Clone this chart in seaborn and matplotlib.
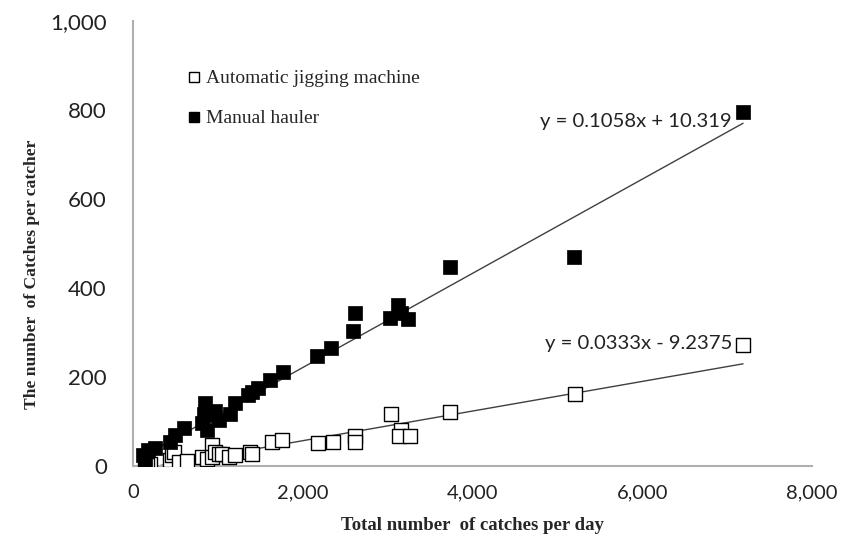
import matplotlib
matplotlib.use("Agg")
import matplotlib.pyplot as plt
from matplotlib.lines import Line2D
import numpy as np
import pandas as pd
import seaborn as sns

# ---- data ----
manual_x = [140, 121, 180, 259, 436, 495, 593, 809, 829, 848, 868, 926, 960, 1005,
            1142, 1201, 1358, 1400, 1476, 1614, 1770, 2160, 2335, 2590, 2615, 3027,
            3121, 3150, 3239, 3734, 5194, 7185]
manual_y = [13, 25, 36, 40, 55, 70, 85, 96, 118, 141, 81, 115, 125, 103,
            118, 141, 160, 167, 175, 193, 212, 247, 265, 303, 344, 333,
            362, 345, 330, 447, 470, 795]
auto_x = [141, 200, 161, 436, 456, 475, 534, 632, 809, 868, 926, 926, 966, 1005,
          1044, 1123, 1201, 1378, 1398, 1633, 1751, 2182, 2351, 2615, 2615, 3034,
          3157, 3133, 3263, 3734, 5206, 7185]
auto_y = [4, 6, 2, 13, 25, 32, 10, 12, 21, 17, 47, 21, 32, 28,
          28, 21, 25, 32, 28, 55, 58, 51, 55, 67, 55, 117,
          82, 67, 67, 121, 162, 272]
series_names = ["Automatic jigging machine", "Manual hauler"]
fit_slopes = [0.0333, 0.1058]
fit_intercepts = [-9.2375, 10.319]
fit_labels = ["y = 0.0333x - 9.2375", "y = 0.1058x + 10.319"]
x_ticks = [0, 2000, 4000, 6000, 8000]
y_ticks = [0, 200, 400, 600, 800, 1000]

sns.set_style("white")
fig = plt.figure(figsize=(8.65, 5.55), dpi=100)
ax = fig.add_axes([0.154, 0.160, 0.785, 0.802])

df_auto = pd.DataFrame({"x": auto_x, "y": auto_y})
df_man = pd.DataFrame({"x": manual_x, "y": manual_y})

# regression lines
for xs, m, b in [(auto_x, fit_slopes[0], fit_intercepts[0]),
                 (manual_x, fit_slopes[1], fit_intercepts[1])]:
    xl = np.array([min(xs), max(xs)])
    ax.plot(xl, m * xl + b, color="#404040", lw=1.0, zorder=2)

sns.scatterplot(data=df_auto, x="x", y="y", ax=ax, marker="s", s=95,
                facecolor="white", edgecolor="black", linewidth=1.0, zorder=3)
sns.scatterplot(data=df_man, x="x", y="y", ax=ax, marker="s", s=90,
                color="black", edgecolor="black", linewidth=0.5, zorder=4)

ax.set_xlim(0, 8000)
ax.set_ylim(0, 1000)
ax.set_xticks(x_ticks)
ax.set_yticks(y_ticks)
ax.set_xticklabels([f"{v:,}" for v in x_ticks])
ax.set_yticklabels([f"{v:,}" for v in y_ticks])

for s in ["top", "right"]:
    ax.spines[s].set_visible(False)
for s in ["left", "bottom"]:
    ax.spines[s].set_color("#b0b0b0")
    ax.spines[s].set_linewidth(1.5)
ax.tick_params(axis="both", which="major", direction="out", length=4,
               width=1, color="#b0b0b0")
ax.tick_params(axis="y", labelsize=16, pad=15)
ax.tick_params(axis="x", labelsize=14.5, pad=9)
for lab in ax.get_xticklabels() + ax.get_yticklabels():
    lab.set_family("Lato")
    lab.set_color("#222222")

ax.set_xlabel("Total number  of catches per day", family="Liberation Serif",
              fontweight="bold", fontsize=13.5)
ax.xaxis.set_label_coords(0.5, -0.115)
ax.set_ylabel("The number  of Catches per catcher", family="Liberation Serif",
              fontweight="bold", fontsize=12.6)
ax.yaxis.set_label_coords(-0.137, 0.431)

# equations
ax.text(7045, 774, fit_labels[1], ha="right", va="center", fontsize=14.6, family="Lato", color="#222222")
ax.text(7065, 276, fit_labels[0], ha="right", va="center", fontsize=14.6, family="Lato", color="#222222")

handles = [Line2D([], [], marker="s", ls="", markersize=7, markerfacecolor="white",
                  markeredgecolor="black", markeredgewidth=1.0),
           Line2D([], [], marker="s", ls="", markersize=7, markerfacecolor="black",
                  markeredgecolor="black")]
leg = ax.legend(handles, series_names, loc="upper left", bbox_to_anchor=(0.055, 0.93),
                frameon=False, handlelength=0.6, handletextpad=0.3, labelspacing=1.15,
                prop={"family": "Liberation Serif", "size": 14})

fig.savefig("out.png", dpi=100)
